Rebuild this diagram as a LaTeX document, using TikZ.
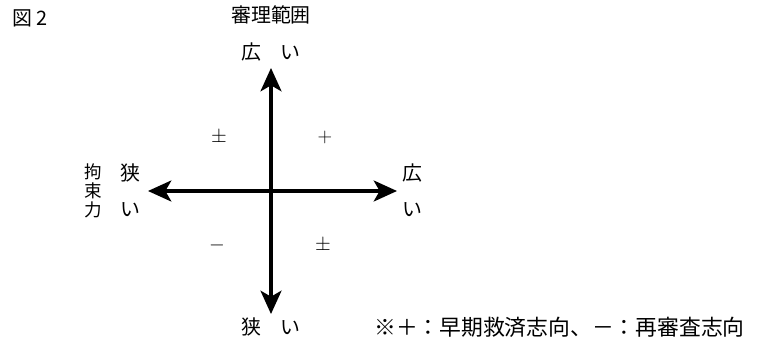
\documentclass[tikz,border=0pt]{standalone}
\usepackage{fontspec}
\newfontfamily\jpfont{Noto Sans CJK JP}
\usetikzlibrary{arrows.meta, positioning}

\begin{document}
\begin{tikzpicture}[
	x=0.03cm, y=-0.03cm,
	font=\jpfont\fontsize{17}{19}\selectfont,
	% Styles
	axis/.style={line width=2.8pt, {Stealth[length=7mm, width=6.3mm, inset=1.8mm]}-{Stealth[length=7mm, width=6.3mm, inset=1.8mm]}},
	label/.style={inner sep=0pt, text=black},
	column/.style={label, font=\jpfont\fontsize{15}{17}\selectfont},
	sign/.style={inner sep=0pt, font=\fontsize{19}{21}\selectfont},
	note/.style={inner sep=0pt, anchor=west, font=\jpfont\fontsize{18.6}{22}\selectfont}
	]
	
	\useasboundingbox (0,0) rectangle (760,339);
	
	% ==========================================
	% Titles
	% ==========================================
	\node[label, anchor=west] (fig) at (12, 18) {図 2};
	\node[label] (range) at (271, 15) {審理範囲};
	
	% ==========================================
	% Axes
	% ==========================================
	\coordinate (top) at (271, 68);
	\coordinate (bot) at (271, 314);
	\coordinate (west) at (148, 191);
	\coordinate (east) at (397, 191);
	
	\draw[axis] (bot) -- (top);
	\draw[axis] (west) -- (east);
	
	% Axis ends
	\node[label] (wideTop) at (271, 52) {広\hspace{1em}い};
	\node[label] (narrowBot) at (271, 327) {狭\hspace{1em}い};
	
	\node[column] (binding1) at (93, 172) {拘};
	\node[column] (binding2) at (93, 191) {束};
	\node[column] (binding3) at (93, 210) {力};
	\node[label] (narrowW1) at (130, 173) {狭};
	\node[label] (narrowW2) at (130, 210) {い};
	\node[label] (wideE1) at (412, 173) {広};
	\node[label] (wideE2) at (412, 210) {い};
	
	% ==========================================
	% Quadrant signs
	% ==========================================
	\node[sign] (qTL) at (219, 137) {$\pm$};
	\node[sign] (qTR) at (325, 137) {$+$};
	\node[sign] (qBL) at (217, 245) {$-$};
	\node[sign] (qBR) at (323, 245) {$\pm$};
	
	% Footnote
	\node[note] (legend) at (374, 327) {※＋：早期救済志向、－：再審査志向};
	
\end{tikzpicture}
\end{document}
